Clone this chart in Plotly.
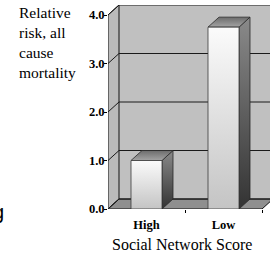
import plotly.graph_objects as go

# ---- data ----
categories = ["High", "Low"]
values = [1.0, 3.75]
y_ticks = [0, 1, 2, 3, 4]
y_title_lines = ["Relative", "risk, all", "cause", "mortality"]
x_title = "Social Network Score"

# ---- geometry (pixel based styling) ----
W_FIG, H_FIG = 270, 254
ML, MR, MT, MB = 108, 0, 5, 45
PX_X = 77.0      # px per category
PX_Y = 48.5      # px per unit value
DX = 11 / PX_X   # 3D depth in x units
DY = 10 / PX_Y   # 3D depth in y units
HW = 15.5 / PX_X # half bar width
x_lo = -0.5
x_hi = x_lo + (W_FIG - ML - MR) / PX_X
y_top = (H_FIG - MT - MB) / PX_Y
n = len(categories)
x_end = n - 0.5

def px_x(px):
    return (px - ML) / (W_FIG - ML - MR)

def px_y(py):
    return (H_FIG - MB - py) / (H_FIG - MT - MB)

fig = go.Figure()

def poly(xs, ys, fill=None, line_color="#222", lw=1, grad=None):
    kw = dict(x=xs + [xs[0]], y=ys + [ys[0]], mode="lines", fill="toself",
              line=dict(color=line_color, width=lw), hoverinfo="skip", showlegend=False)
    if grad is not None:
        kw["fillgradient"] = grad
    else:
        kw["fillcolor"] = fill
    fig.add_trace(go.Scatter(**kw))

# back wall
poly([x_lo + DX, x_hi + 1, x_hi + 1, x_lo + DX], [DY, DY, y_top + 1, y_top + 1], fill="#c0c0c0", line_color="#c0c0c0", lw=0)
# left wall
poly([x_lo, x_lo + DX, x_lo + DX, x_lo], [0, DY, 4 + DY, 4], fill="#bababa", line_color="#111", lw=1)
# floor
poly([x_lo, x_end, x_end + DX, x_lo + DX], [0, 0, DY, DY], fill="#8f8f8f", line_color="#111", lw=1)

# gridlines
gx, gy = [], []
for v in y_ticks:
    gx += [x_lo, x_lo + DX, x_hi + 1, None]
    gy += [v, v + DY, v + DY, None]
fig.add_trace(go.Scatter(x=gx, y=gy, mode="lines", line=dict(color="#1a1a1a", width=1),
                         hoverinfo="skip", showlegend=False))

# bars
for i, v in enumerate(values):
    # side face
    poly([i + HW, i + HW + DX, i + HW + DX, i + HW], [0, DY, v + DY, v],
         line_color="#2a2a2a", lw=0.8,
         grad=dict(type="vertical", colorscale=[[0, "#333333"], [1, "#8a8a8a"]]))
    # top face
    poly([i - HW, i + HW, i + HW + DX, i - HW + DX], [v, v, v + DY, v + DY],
         line_color="#2a2a2a", lw=0.8,
         grad=dict(type="vertical", colorscale=[[0, "#a4a4a4"], [1, "#6c6c6c"]]))
    # front face
    poly([i - HW, i + HW, i + HW, i - HW], [0, 0, v, v],
         line_color="#3a3a3a", lw=0.8,
         grad=dict(type="vertical", colorscale=[[0, "#c4c4c4"], [1, "#fbfbfb"]]))

serif = "Liberation Serif"

fig.update_layout(
    width=W_FIG, height=H_FIG,
    margin=dict(l=ML, r=MR, t=MT, b=MB),
    paper_bgcolor="white", plot_bgcolor="white",
    showlegend=False,
    xaxis=dict(range=[x_lo, x_hi], showgrid=False, zeroline=False, showline=False,
               tickmode="array", tickvals=list(range(n)), ticktext=categories,
               ticks="", ticklabelstandoff=6,
               tickfont=dict(family=serif, size=12.5, color="black", weight="bold"),
               minor=dict(tickmode="array", tickvals=[i + 0.5 for i in range(n)],
                          ticks="outside", ticklen=3, tickcolor="black", showgrid=False),
               fixedrange=True),
    yaxis=dict(range=[0, y_top], showgrid=False, zeroline=False, showline=False,
               tickmode="array", tickvals=y_ticks, ticktext=[f"{t:.1f}" for t in y_ticks],
               ticks="outside", ticklen=3, tickcolor="black", ticklabelstandoff=-3,
               tickfont=dict(family=serif, size=12.5, color="black", weight="bold"),
               fixedrange=True),
    annotations=[
        dict(text="<br>".join(y_title_lines), xref="paper", yref="paper",
             x=px_x(17), y=px_y(2), xanchor="left", yanchor="top", align="left",
             showarrow=False, font=dict(family=serif, size=15.5, color="black")),
        dict(text=x_title, xref="paper", yref="paper",
             x=px_x(182), y=px_y(244), xanchor="center", yanchor="middle",
             showarrow=False, font=dict(family=serif, size=16, color="black")),
        dict(text="g", xref="paper", yref="paper",
             x=px_x(6), y=px_y(211.5), xanchor="right", yanchor="middle",
             showarrow=False, font=dict(family="Liberation Sans", size=20, color="black")),
    ],
)

fig.write_html("out.html", config={"displayModeBar": False},
               post_script="document.body.style.margin='0';document.body.style.padding='0';")
